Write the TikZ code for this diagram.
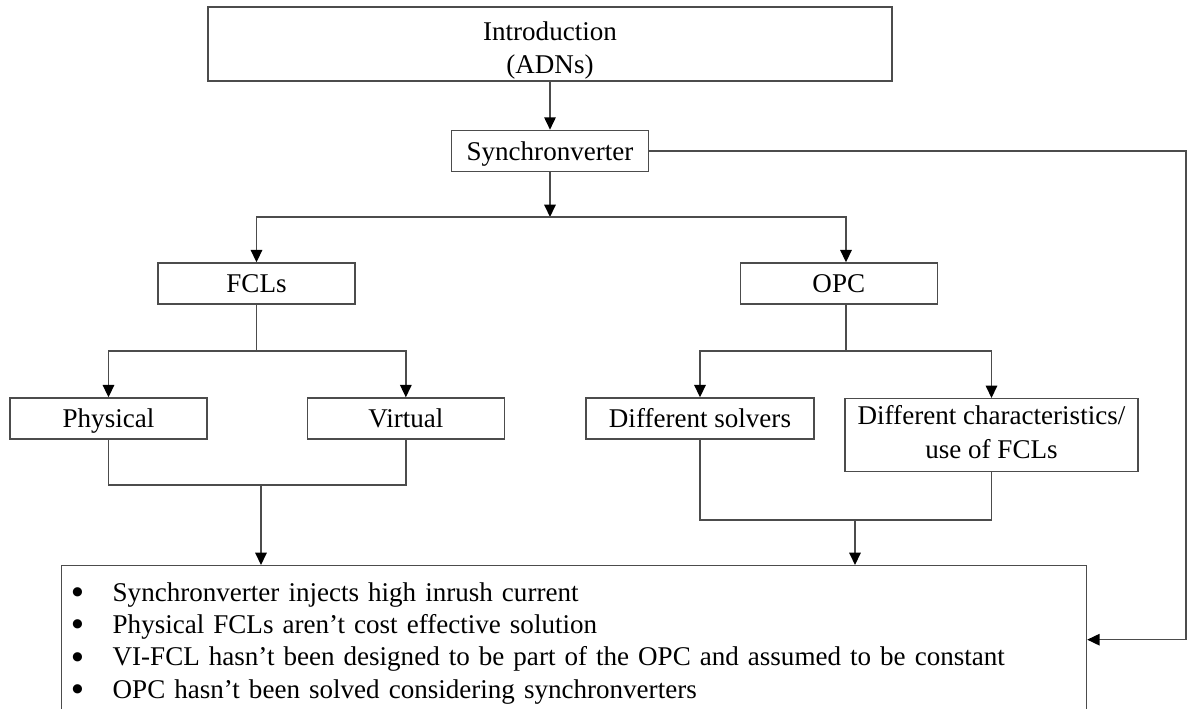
\documentclass[tikz,border=0pt]{standalone}
\usepackage{fontspec}
\setmainfont{Liberation Serif}
\usetikzlibrary{positioning}
\usetikzlibrary{arrows.meta}

\newcommand{\boxstrut}{\rule[-3.5pt]{0pt}{17.5pt}}
\newcommand{\gapbullet}{\makebox[0.82cm][l]{\raisebox{-0.08em}{\scalebox{1.25}{\textbf{\textbullet}}}}}

\begin{document}
\begin{tikzpicture}[x=0.02cm, y=-0.02cm,
    box/.style={draw=black!70, line width=0.8pt, rectangle, minimum height=0.82cm, inner sep=0pt, align=center,
        font=\fontsize{15.4}{19}\selectfont, execute at begin node=\boxstrut, execute at end node=\boxstrut},
    link/.style={draw=black!70, line width=0.8pt},
    arr/.style={link, -{Triangle[length=7pt, width=6.5pt, color=black]}}]

    \clip (0,0) rectangle (1188,709);

    \node(intro)[box, minimum width=13.68cm, minimum height=1.48cm] at (550,44) {\rule{0pt}{18pt}Introduction\\(ADNs)};
    \node(syn)[box, minimum width=3.94cm, below=0.96cm of intro]{Synchronverter};

    \node(fcl)[box, minimum width=3.94cm] at (256.5,283.5) {FCLs};
    \node(opc)[box, minimum width=3.94cm, right=7.68cm of fcl]{OPC};

    \node(phys)[box, minimum width=3.94cm] at (108.5,418.5) {Physical};
    \node(virt)[box, minimum width=3.94cm, right=1.98cm of phys]{Virtual};
    \node(solv)[box, minimum width=4.56cm] at (700,418.5) {Different solvers};
    \node(chars)[box, minimum width=5.86cm, minimum height=1.46cm, anchor=north] at (991.5,398) {Different characteristics/\\use of FCLs};

    \node(gaps)[box, anchor=north west, minimum width=20.5cm, minimum height=2.96cm, text width=20.1cm, inner xsep=0.2cm, align=left,
        font=\fontsize{15.4}{18.4}\selectfont] at (61,565)
        {\rule{0pt}{15pt}\gapbullet Synchronverter injects high inrush current\\
         \gapbullet Physical FCLs aren’t cost effective solution\\
         \gapbullet VI-FCL hasn’t been designed to be part of the OPC and assumed to be constant\\
         \gapbullet OPC hasn’t been solved considering synchronverters};

    \coordinate(br1) at (550,217);
    \coordinate(rc) at (1186,150);
    \coordinate(fb) at (256.5,351);
    \coordinate(fj) at (261,485);
    \coordinate(ob) at (846,351);
    \coordinate(oj) at (855,520);

    \draw[arr] (intro) -- (syn);
    \draw[arr] (syn) -- (br1);
    \draw[arr] (br1) -| (fcl);
    \draw[arr] (br1) -| (ob |- opc.north);
    \draw[arr] (syn) -- (syn -| rc) |- (gaps);

    \draw[link] (fcl) -- (fb);
    \draw[arr] (fb) -| (phys);
    \draw[arr] (fb) -| (virt);
    \draw[link] (phys) |- (fj) -| (virt);
    \draw[arr] (fj) -- (fj |- gaps.north);

    \draw[link] (ob |- opc.south) -- (ob);
    \draw[arr] (ob) -| (solv);
    \draw[arr] (ob) -| (chars);
    \draw[link] (solv) |- (oj) -| (chars);
    \draw[arr] (oj) -- (oj |- gaps.north);

\end{tikzpicture}
\end{document}
